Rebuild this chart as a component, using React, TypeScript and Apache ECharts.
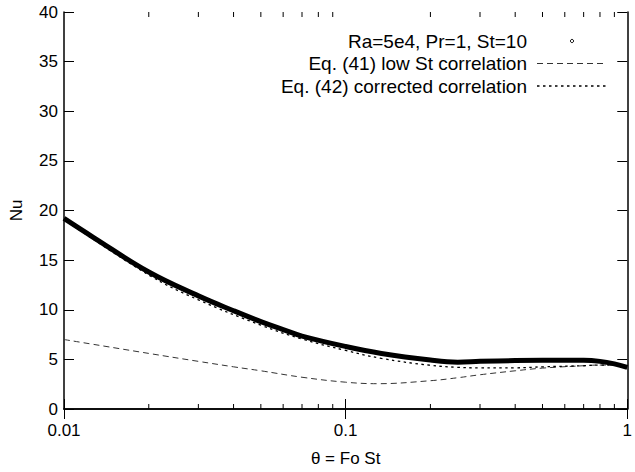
import React, { useEffect, useRef } from "react";
import * as echarts from "echarts";

const thetaRa = [0.01, 0.0127, 0.02, 0.03, 0.04, 0.05, 0.06, 0.07, 0.1, 0.134, 0.2, 0.25, 0.3, 0.4, 0.5, 0.7, 0.8, 0.9, 1.0];
const nuRa = [19.2, 17.3, 13.8, 11.4, 9.9, 8.8, 8.0, 7.35, 6.3, 5.6, 4.93, 4.72, 4.8, 4.88, 4.9, 4.9, 4.8, 4.55, 4.2];

const thetaEq41 = [0.01, 0.02, 0.03, 0.04, 0.05, 0.07, 0.1, 0.13, 0.2, 0.25, 0.3, 0.4, 0.5, 0.7, 0.8, 0.9, 1.0];
const nuEq41 = [7.0, 5.6, 4.8, 4.25, 3.85, 3.2, 2.7, 2.55, 2.85, 3.15, 3.45, 3.85, 4.12, 4.36, 4.43, 4.4, 4.3];

const thetaEq42 = [0.01, 0.02, 0.03, 0.05, 0.07, 0.1, 0.134, 0.2, 0.25, 0.3, 0.4, 0.5, 0.7, 0.8, 0.9, 1.0];
const nuEq42 = [19.1, 13.5, 11.0, 8.45, 7.05, 5.9, 5.1, 4.4, 4.2, 4.15, 4.15, 4.25, 4.36, 4.43, 4.42, 4.35];

const minorTicks = [0.02, 0.03, 0.04, 0.05, 0.06, 0.07, 0.08, 0.09, 0.2, 0.3, 0.4, 0.5, 0.6, 0.7, 0.8, 0.9];

const legendNames = ["Ra=5e4, Pr=1, St=10", "Eq. (41) low St correlation", "Eq. (42) corrected correlation"];

const FONT = "Liberation Sans, Arial, Helvetica, sans-serif";

function zip(xs: number[], ys: number[]) {
  return xs.map((x, i) => [x, ys[i]]);
}

export default function App() {
  const ref = useRef<HTMLDivElement>(null);
  useEffect(() => {
    if (!ref.current) return;
    const chart = echarts.init(ref.current, null, { renderer: "svg" });
    const axisLine = { show: true, lineStyle: { color: "#000", width: 1.5 } };
    const legendX = 527;
    const legendY = [41, 63.5, 86];
    const sampleX0 = 537;
    const sampleX1 = 607;
    chart.setOption({
      animation: false,
      backgroundColor: "#fff",
      textStyle: { fontFamily: FONT },
      grid: { left: 61, right: 7, top: 12, bottom: 61, containLabel: false },
      xAxis: [
        {
          type: "log",
          logBase: 10,
          min: 0.01,
          max: 1,
          name: "θ = Fo St",
          nameLocation: "middle",
          nameGap: 41,
          nameTextStyle: { fontSize: 17, color: "#000", fontFamily: FONT },
          axisLine,
          axisTick: { show: true, inside: true, length: 10, lineStyle: { color: "#000", width: 1 } },
          axisLabel: {
            fontSize: 17,
            color: "#000",
            margin: 13,
            fontFamily: FONT,
            showMaxLabel: true,
            formatter: (v: number) => String(+v.toPrecision(3)),
          },
          splitLine: { show: false },
          minorTick: { show: false },
        },
        {
          type: "log",
          logBase: 10,
          min: 0.01,
          max: 1,
          position: "top",
          axisLine,
          axisTick: { show: true, inside: true, length: 10, lineStyle: { color: "#000", width: 1 } },
          axisLabel: { show: false },
          splitLine: { show: false },
        },
      ],
      yAxis: [
        {
          type: "value",
          min: 0,
          max: 40,
          interval: 5,
          name: "Nu",
          nameLocation: "middle",
          nameGap: 39,
          nameTextStyle: { fontSize: 17, color: "#000", fontFamily: FONT },
          axisLine,
          axisTick: { show: true, inside: true, length: 10, lineStyle: { color: "#000", width: 1 } },
          axisLabel: { fontSize: 17, color: "#000", margin: 6, fontFamily: FONT },
          splitLine: { show: false },
        },
        {
          type: "value",
          min: 0,
          max: 40,
          interval: 5,
          position: "right",
          axisLine,
          axisTick: { show: true, inside: true, length: 10, lineStyle: { color: "#000", width: 1 } },
          axisLabel: { show: false },
          splitLine: { show: false },
        },
      ],
      series: [
        {
          name: legendNames[0],
          type: "line",
          smooth: 0.4,
          showSymbol: false,
          data: zip(thetaRa, nuRa),
          lineStyle: { color: "#000", width: 5 },
          z: 3,
        },
        {
          name: legendNames[1],
          type: "line",
          smooth: 0.4,
          showSymbol: false,
          data: zip(thetaEq41, nuEq41),
          lineStyle: { color: "#333", width: 1, type: [6, 4] },
          z: 2,
        },
        {
          name: legendNames[2],
          type: "line",
          smooth: 0.4,
          showSymbol: false,
          data: zip(thetaEq42, nuEq42),
          lineStyle: { color: "#000", width: 1.3, type: [2.5, 3.5] },
          z: 4,
        },
        {
          type: "custom",
          silent: true,
          data: minorTicks.map((t) => [t, 0]),
          renderItem: (params: any, api: any) => {
            const x = api.value(0);
            const pb = api.coord([x, 0]);
            const pt = api.coord([x, 40]);
            return {
              type: "group",
              children: [
                { type: "line", shape: { x1: pb[0], y1: pb[1], x2: pb[0], y2: pb[1] - 5 }, style: { stroke: "#000", lineWidth: 1 } },
                { type: "line", shape: { x1: pt[0], y1: pt[1], x2: pt[0], y2: pt[1] + 5 }, style: { stroke: "#000", lineWidth: 1 } },
              ],
            };
          },
          z: 1,
        },
      ],
      graphic: [
        ...legendNames.map((n, i) => ({
          type: "text",
          x: legendX,
          y: legendY[i],
          style: { text: n, fill: "#000", font: `19px ${FONT}`, textAlign: "right", textVerticalAlign: "middle" },
        })),
        { type: "circle", shape: { cx: (sampleX0 + sampleX1) / 2, cy: legendY[0], r: 1.6 }, style: { fill: "#fff", stroke: "#000", lineWidth: 1 } },
        { type: "line", shape: { x1: sampleX0, y1: legendY[1], x2: sampleX1, y2: legendY[1] }, style: { stroke: "#333", lineWidth: 1, lineDash: [6, 4] } },
        { type: "line", shape: { x1: sampleX0, y1: legendY[2], x2: sampleX1, y2: legendY[2] }, style: { stroke: "#000", lineWidth: 1.3, lineDash: [2.5, 3.5] } },
      ],
    });
    return () => chart.dispose();
  }, []);
  return <div ref={ref} style={{ width: 635, height: 472, position: "fixed", left: 0, top: 0 }} />;
}
